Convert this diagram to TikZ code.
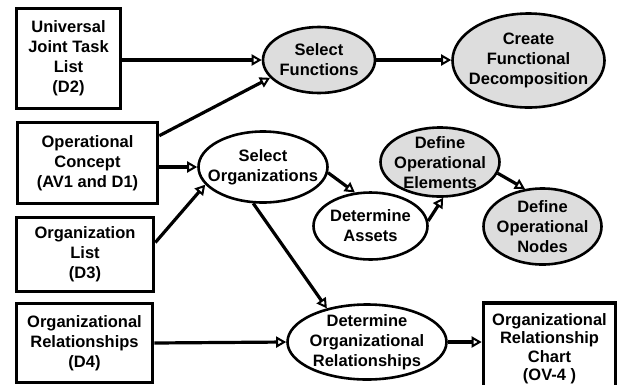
\documentclass[tikz,border=0pt]{standalone}
\usepackage{fontspec}
\setmainfont{Liberation Sans}
\usetikzlibrary{shapes.geometric,arrows.meta}
\definecolor{procgrey}{RGB}{221,221,221}
\begin{document}
\begin{tikzpicture}[x=1pt,y=-1pt,
  txt/.style={font=\fontsize{16.5}{20}\selectfont\bfseries, align=center, inner sep=0pt},
  docbox/.style={draw, line width=3.6pt, fill=white, txt},
  proc/.style={draw, ellipse, line width=2.6pt, inner sep=0pt, fill=white},
  gproc/.style={proc, fill=procgrey},
  flow/.style={line width=3.2pt, -{Triangle[fill=white, line width=2pt, length=10pt, width=11pt]}}
]
\useasboundingbox (0,0) rectangle (618,384);
\clip (0,0) rectangle (618,384);

% input documents
\node[docbox, minimum width=104pt, minimum height=100pt] (ujtl) at (68.5,58.5)
  {Universal\\Joint Task\\List\\(D2)};
\node[docbox, minimum width=140pt, minimum height=81pt] (oc) at (87.5,163)
  {Operational\\Concept\\(AV1 and D1)};
\node[docbox, minimum width=137pt, minimum height=74pt] (ol) at (85,254.5)
  {Organization\\List\\(D3)};
\node[docbox, minimum width=136pt, minimum height=79pt] (orl) at (84.5,343)
  {Organizational\\Relationships\\(D4)};

% output product
\node[docbox, minimum width=132pt, minimum height=97pt,
  label={[txt, yshift=3pt, font=\fontsize{16.5}{18.5}\selectfont\bfseries]center:Organizational\\Relationship\\Chart\\(OV-4 )}]
  (chart) at (549.5,351.5) {};

% process steps
\node[gproc, minimum width=112pt, minimum height=66pt,
  label={[txt]center:Select\\Functions}] (sf) at (319,60) {};
\node[gproc, minimum width=152pt, minimum height=94pt,
  label={[txt]center:Create\\Functional\\Decomposition}] (cfd) at (528.5,60.5) {};
\node[proc, minimum width=129pt, minimum height=71pt,
  label={[txt]center:Select\\Organizations}] (so) at (263,167) {};
\node[gproc, minimum width=119pt, minimum height=69pt,
  label={[txt, yshift=-1pt]center:Define\\Operational\\Elements}] (doe) at (440,162) {};
\node[proc, minimum width=114pt, minimum height=67pt,
  label={[txt]center:Determine\\Assets}] (da) at (370.5,226) {};
\node[gproc, minimum width=118pt, minimum height=76pt,
  label={[txt]center:Define\\Operational\\Nodes}] (don) at (542.5,226.5) {};
\node[proc, minimum width=159pt, minimum height=75pt,
  label={[txt]center:Determine\\Organizational\\Relationships}] (dor) at (367,342) {};

% flows
\draw[flow] (ujtl.east |- sf.west) -- (sf.west);
\draw[flow] ([yshift=-15pt]oc.north east) -- (sf.200);
\draw[flow] (oc.east |- so.west) -- (so.west);
\draw[flow] ([yshift=12pt]ol.east) -- (so.197);
\draw[flow] (sf.east) -- (sf.east -| cfd.west);
\draw[flow] (so.-5) -- (da.115);
\draw[flow] (da.5) -- (doe.275);
\draw[flow] (doe.-11) -- (don.115);
\draw[flow] (so.255) -- (dor.140);
\draw[flow] (orl.east) -- (dor.west);
\draw[flow] (dor.east) -- (dor.east -| chart.west);
\end{tikzpicture}
\end{document}
